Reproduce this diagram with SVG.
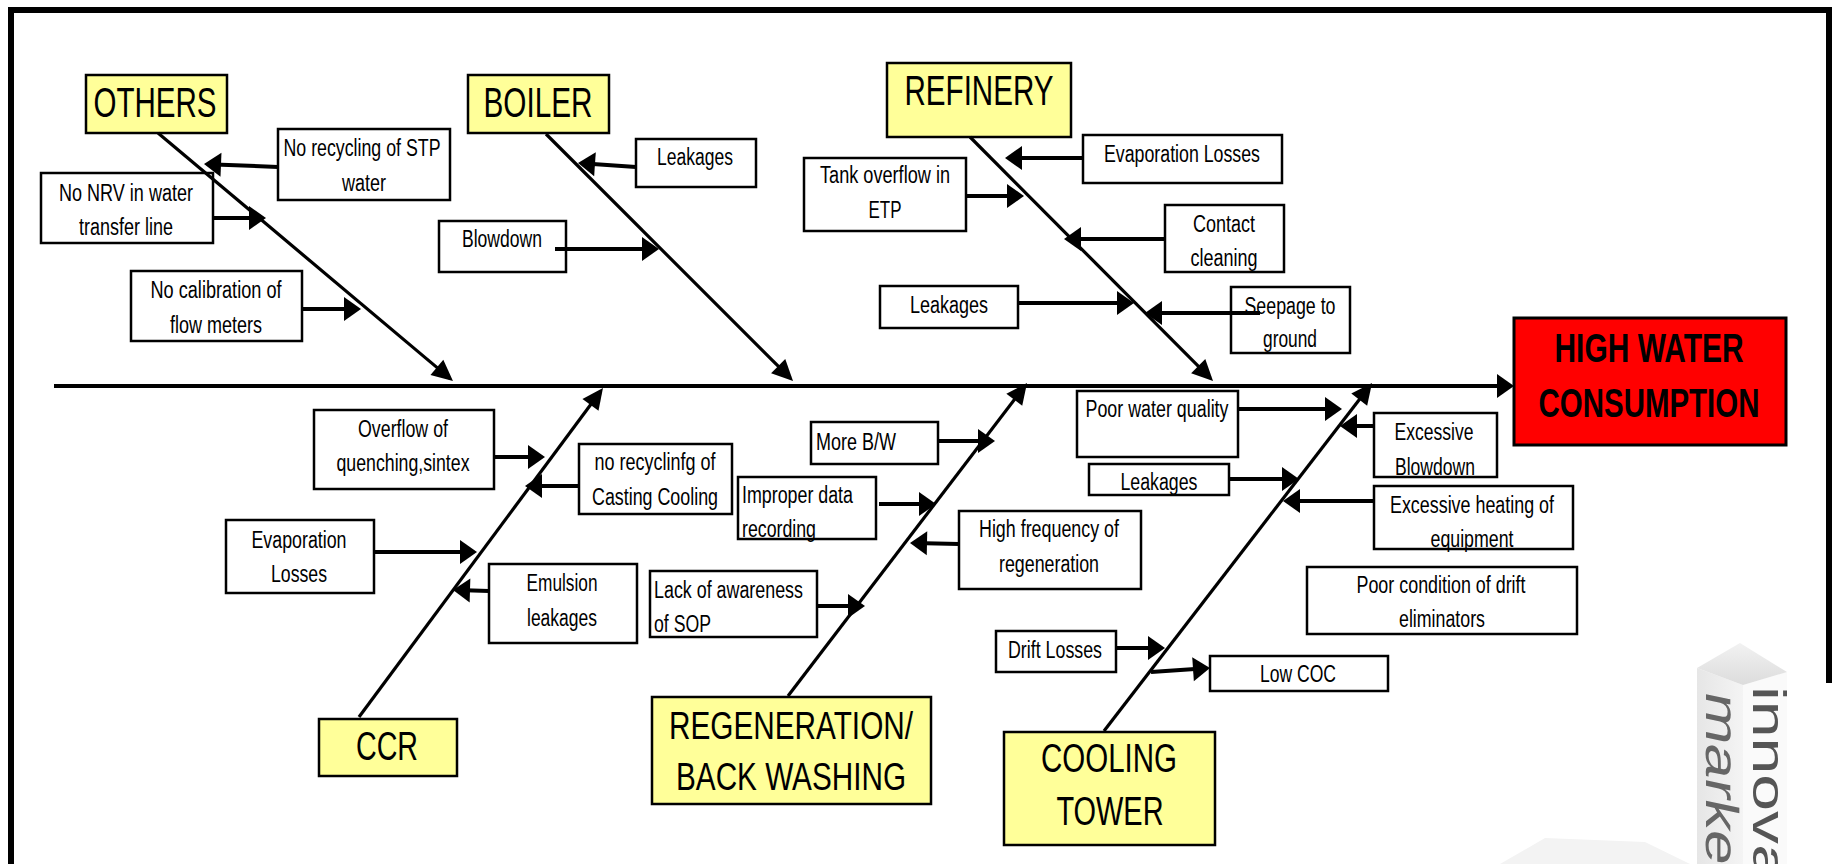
<svg xmlns="http://www.w3.org/2000/svg" width="1832" height="864" viewBox="0 0 1832 864">
<style>
.box{fill:#fff;stroke:#000;stroke-width:2.5}
.cat{fill:#ffff99;stroke:#000;stroke-width:2.5}
.eff{fill:#ff0000;stroke:#000;stroke-width:3}
text{font-family:"Liberation Sans",Arial,sans-serif;fill:#000}
.s{font-size:23px;text-anchor:middle}
.sl{font-size:23px;text-anchor:start}
.c{font-size:43px;text-anchor:middle}
.h{font-size:40px;font-weight:bold;text-anchor:middle}
.bone{stroke:#000;stroke-width:3.2;fill:none;marker-end:url(#bh)}
.arr{stroke:#000;stroke-width:4;fill:none;marker-end:url(#ah)}
.spine{stroke:#000;stroke-width:4;fill:none;marker-end:url(#ah)}
</style>
<defs>
<marker id="ah" markerUnits="userSpaceOnUse" orient="auto" overflow="visible" refX="-4" refY="0" markerWidth="20" markerHeight="26"><path d="M-17,-12 L0,0 L-17,12 z" fill="#000"/></marker>
<marker id="bh" markerUnits="userSpaceOnUse" orient="auto" overflow="visible" refX="-4" refY="0" markerWidth="22" markerHeight="22"><path d="M-21,-10 L0,0 L-21,10 z" fill="#000"/></marker>
<linearGradient id="lf" x1="0" y1="0" x2="1" y2="0"><stop offset="0" stop-color="#e6e6e6"/><stop offset="1" stop-color="#f4f4f4"/></linearGradient>
<linearGradient id="tf" x1="0" y1="0" x2="0" y2="1"><stop offset="0" stop-color="#f2f2f2"/><stop offset="1" stop-color="#dcdcdc"/></linearGradient>
</defs>
<rect width="1832" height="864" fill="#fff"/>
<path d="M11,864 L11,10 L1829,10 L1829,683" fill="none" stroke="#000" stroke-width="6"/>

<g id="watermark">
<polygon points="1500,864 1545,838 1645,842 1690,864" fill="#f3f3f3"/>
<polygon points="1697,668 1743,685 1743,864 1697,864" fill="url(#lf)"/>
<polygon points="1743,685 1787,672 1787,864 1743,864" fill="#fafafa"/>
<polygon points="1697,668 1740,643 1787,672 1743,685" fill="url(#tf)"/>
<text transform="translate(1753,686) rotate(90)" style="font-size:46px;fill:#555" textLength="195" lengthAdjust="spacingAndGlyphs">innova</text>
<text transform="translate(1706,690) rotate(90) skewX(-12)" style="font-size:46px;fill:#666" textLength="172" lengthAdjust="spacingAndGlyphs">marke</text>
</g>

<g id="effect">
<rect class="eff" x="1514" y="318" width="272" height="127"/>
<text class="h" x="1649" y="362" textLength="189" lengthAdjust="spacingAndGlyphs">HIGH WATER</text>
<text class="h" x="1649" y="417" textLength="221" lengthAdjust="spacingAndGlyphs">CONSUMPTION</text>
</g>

<g id="cat-others"><rect class="cat" x="86" y="75" width="141" height="58"/><text class="c" x="155" y="117" textLength="123" lengthAdjust="spacingAndGlyphs">OTHERS</text></g>
<g id="cat-boiler"><rect class="cat" x="468" y="75" width="141" height="58"/><text class="c" x="538" y="117" textLength="109" lengthAdjust="spacingAndGlyphs">BOILER</text></g>
<g id="cat-refinery"><rect class="cat" x="887" y="63" width="184" height="74"/><text class="c" x="979" y="105" textLength="149" lengthAdjust="spacingAndGlyphs">REFINERY</text></g>
<g id="cat-ccr"><rect class="cat" x="319" y="719" width="138" height="57"/><text class="c" style="font-size:41px" x="387" y="760" textLength="62" lengthAdjust="spacingAndGlyphs">CCR</text></g>
<g id="cat-regen"><rect class="cat" x="652" y="697" width="279" height="107"/><text class="c" style="font-size:39px" x="791" y="739" textLength="244" lengthAdjust="spacingAndGlyphs">REGENERATION/</text><text class="c" style="font-size:39px" x="791" y="790" textLength="230" lengthAdjust="spacingAndGlyphs">BACK WASHING</text></g>
<g id="cat-cooling"><rect class="cat" x="1004" y="732" width="211" height="113"/><text class="c" style="font-size:40px" x="1109" y="772" textLength="136" lengthAdjust="spacingAndGlyphs">COOLING</text><text class="c" style="font-size:40px" x="1110" y="825" textLength="107" lengthAdjust="spacingAndGlyphs">TOWER</text></g>

<g id="c-stp"><rect class="box" x="278" y="129" width="172" height="71"/><text class="s" x="362" y="156" textLength="157" lengthAdjust="spacingAndGlyphs">No recycling of STP</text><text class="s" x="364" y="191" textLength="44" lengthAdjust="spacingAndGlyphs">water</text></g>
<g id="c-nrv"><rect class="box" x="41" y="173" width="172" height="70"/><text class="s" x="126" y="201" textLength="134" lengthAdjust="spacingAndGlyphs">No NRV in water</text><text class="s" x="126" y="235" textLength="94" lengthAdjust="spacingAndGlyphs">transfer line</text></g>
<g id="c-calib"><rect class="box" x="131" y="271" width="171" height="70"/><text class="s" x="216" y="298" textLength="131" lengthAdjust="spacingAndGlyphs">No calibration of</text><text class="s" x="216" y="333" textLength="92" lengthAdjust="spacingAndGlyphs">flow meters</text></g>
<g id="c-blowdown"><rect class="box" x="439" y="221" width="127" height="51"/><text class="s" x="502" y="247" textLength="80" lengthAdjust="spacingAndGlyphs">Blowdown</text></g>
<g id="c-leak-boiler"><rect class="box" x="636" y="139" width="120" height="48"/><text class="s" x="695" y="165" textLength="76" lengthAdjust="spacingAndGlyphs">Leakages</text></g>
<g id="c-evap-ref"><rect class="box" x="1083" y="135" width="199" height="48"/><text class="s" x="1182" y="162" textLength="156" lengthAdjust="spacingAndGlyphs">Evaporation Losses</text></g>
<g id="c-tank"><rect class="box" x="804" y="158" width="162" height="73"/><text class="s" x="885" y="183" textLength="130" lengthAdjust="spacingAndGlyphs">Tank overflow in</text><text class="s" x="885" y="218" textLength="33" lengthAdjust="spacingAndGlyphs">ETP</text></g>
<g id="c-contact"><rect class="box" x="1165" y="205" width="119" height="67"/><text class="s" x="1224" y="232" textLength="62" lengthAdjust="spacingAndGlyphs">Contact</text><text class="s" x="1224" y="266" textLength="67" lengthAdjust="spacingAndGlyphs">cleaning</text></g>
<g id="c-leak-ref"><rect class="box" x="880" y="286" width="138" height="42"/><text class="s" x="949" y="313" textLength="78" lengthAdjust="spacingAndGlyphs">Leakages</text></g>
<g id="c-seepage"><rect class="box" x="1231" y="287" width="119" height="66"/><text class="s" x="1290" y="314" textLength="91" lengthAdjust="spacingAndGlyphs">Seepage to</text><text class="s" x="1290" y="347" textLength="54" lengthAdjust="spacingAndGlyphs">ground</text></g>
<g id="c-overflow"><rect class="box" x="314" y="410" width="180" height="79"/><text class="s" x="403" y="437" textLength="90" lengthAdjust="spacingAndGlyphs">Overflow of</text><text class="s" x="403" y="471" textLength="133" lengthAdjust="spacingAndGlyphs">quenching,sintex</text></g>
<g id="c-casting"><rect class="box" x="579" y="444" width="153" height="70"/><text class="s" x="655" y="470" textLength="121" lengthAdjust="spacingAndGlyphs">no recyclinfg of</text><text class="s" x="655" y="505" textLength="126" lengthAdjust="spacingAndGlyphs">Casting Cooling</text></g>
<g id="c-evap-ccr"><rect class="box" x="226" y="520" width="148" height="73"/><text class="s" x="299" y="548" textLength="95" lengthAdjust="spacingAndGlyphs">Evaporation</text><text class="s" x="299" y="582" textLength="56" lengthAdjust="spacingAndGlyphs">Losses</text></g>
<g id="c-emulsion"><rect class="box" x="489" y="564" width="148" height="79"/><text class="s" x="562" y="591" textLength="71" lengthAdjust="spacingAndGlyphs">Emulsion</text><text class="s" x="562" y="626" textLength="70" lengthAdjust="spacingAndGlyphs">leakages</text></g>
<g id="c-morebw"><rect class="box" x="811" y="422" width="127" height="42"/><text class="sl" x="816" y="450" textLength="80" lengthAdjust="spacingAndGlyphs">More B/W</text></g>
<g id="c-improper"><rect class="box" x="738" y="477" width="138" height="62"/><text class="sl" x="742" y="503" textLength="111" lengthAdjust="spacingAndGlyphs">Improper data</text><text class="sl" x="742" y="537" textLength="74" lengthAdjust="spacingAndGlyphs">recording</text></g>
<g id="c-highfreq"><rect class="box" x="959" y="511" width="182" height="78"/><text class="s" x="1049" y="537" textLength="140" lengthAdjust="spacingAndGlyphs">High frequency of</text><text class="s" x="1049" y="572" textLength="100" lengthAdjust="spacingAndGlyphs">regeneration</text></g>
<g id="c-lack"><rect class="box" x="650" y="571" width="167" height="66"/><text class="sl" x="654" y="598" textLength="149" lengthAdjust="spacingAndGlyphs">Lack of awareness</text><text class="sl" x="654" y="632" textLength="57" lengthAdjust="spacingAndGlyphs">of SOP</text></g>
<g id="c-drift"><rect class="box" x="996" y="631" width="120" height="41"/><text class="s" x="1055" y="658" textLength="94" lengthAdjust="spacingAndGlyphs">Drift Losses</text></g>
<g id="c-poorwater"><rect class="box" x="1077" y="391" width="161" height="66"/><text class="s" x="1157" y="417" textLength="143" lengthAdjust="spacingAndGlyphs">Poor water quality</text></g>
<g id="c-excblow"><rect class="box" x="1374" y="413" width="123" height="64"/><text class="s" x="1434" y="440" textLength="79" lengthAdjust="spacingAndGlyphs">Excessive</text><text class="s" x="1435" y="475" textLength="80" lengthAdjust="spacingAndGlyphs">Blowdown</text></g>
<g id="c-leak-ct"><rect class="box" x="1089" y="464" width="140" height="31"/><text class="s" x="1159" y="490" textLength="77" lengthAdjust="spacingAndGlyphs">Leakages</text></g>
<g id="c-excheat"><rect class="box" x="1374" y="486" width="199" height="63"/><text class="s" x="1472" y="513" textLength="164" lengthAdjust="spacingAndGlyphs">Excessive heating of</text><text class="s" x="1472" y="547" textLength="83" lengthAdjust="spacingAndGlyphs">equipment</text></g>
<g id="c-eliminators"><rect class="box" x="1307" y="567" width="270" height="67"/><text class="s" x="1441" y="593" textLength="169" lengthAdjust="spacingAndGlyphs">Poor condition of drift</text><text class="s" x="1442" y="627" textLength="86" lengthAdjust="spacingAndGlyphs">eliminators</text></g>
<g id="c-lowcoc"><rect class="box" x="1210" y="656" width="178" height="35"/><text class="s" x="1298" y="682" textLength="76" lengthAdjust="spacingAndGlyphs">Low COC</text></g>

<g id="connectors">
<line class="spine" x1="54" y1="386" x2="1510" y2="386"/>
<line class="bone" x1="158" y1="133" x2="449.9" y2="378.4"/>
<line class="bone" x1="546" y1="134" x2="790.2" y2="378.2"/>
<line class="bone" x1="970" y1="137" x2="1210.2" y2="378.2"/>
<line class="bone" x1="359" y1="717" x2="600.6" y2="391.2"/>
<line class="bone" x1="788" y1="696" x2="1024.6" y2="386.2"/>
<line class="bone" x1="1104" y1="731" x2="1369.6" y2="386.2"/>
<line class="arr" x1="278" y1="167" x2="208" y2="164.2"/>
<line class="arr" x1="213" y1="218" x2="262" y2="218"/>
<line class="arr" x1="302" y1="309" x2="357" y2="309"/>
<line class="arr" x1="555" y1="249" x2="655" y2="249"/>
<line class="arr" x1="636" y1="167" x2="582" y2="163.3"/>
<line class="arr" x1="1083" y1="158" x2="1009" y2="158"/>
<line class="arr" x1="966" y1="196" x2="1020" y2="196"/>
<line class="arr" x1="1165" y1="239" x2="1068" y2="239"/>
<line class="arr" x1="1018" y1="303" x2="1130" y2="303"/>
<line class="arr" x1="1260" y1="313" x2="1149" y2="313"/>
<line class="arr" x1="494" y1="457" x2="541" y2="457"/>
<line class="arr" x1="579" y1="486" x2="529" y2="486"/>
<line class="arr" x1="374" y1="552" x2="473" y2="552"/>
<line class="arr" x1="489" y1="591" x2="457" y2="590.1"/>
<line class="arr" x1="938" y1="441" x2="991" y2="441"/>
<line class="arr" x1="879" y1="504" x2="932" y2="504"/>
<line class="arr" x1="959" y1="544" x2="914" y2="543.1"/>
<line class="arr" x1="817" y1="606" x2="861" y2="606"/>
<line class="arr" x1="1238" y1="409" x2="1338" y2="409"/>
<line class="arr" x1="1374" y1="426" x2="1344" y2="426"/>
<line class="arr" x1="1229" y1="479" x2="1295" y2="479"/>
<line class="arr" x1="1374" y1="501" x2="1287" y2="501"/>
<line class="arr" x1="1116" y1="648" x2="1161" y2="648"/>
<line class="arr" x1="1151" y1="672" x2="1206" y2="668.3"/>
</g>
</svg>
